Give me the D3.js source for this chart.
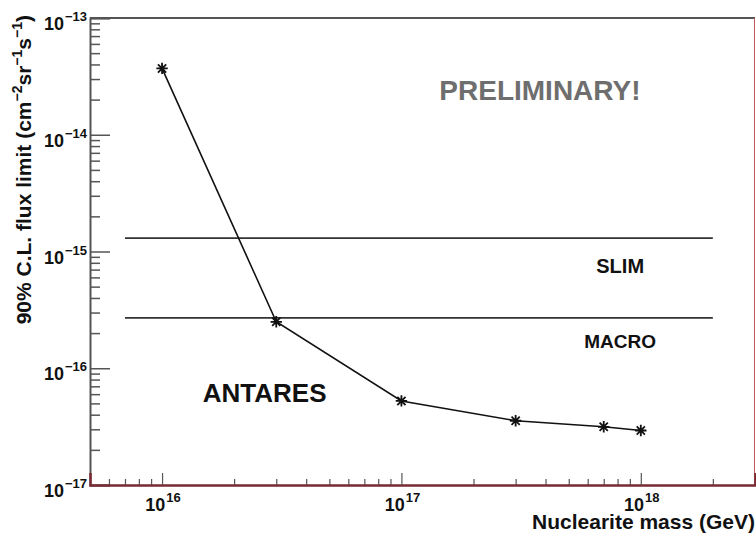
<!DOCTYPE html>
<html>
  <head>
    <meta charset="utf-8">
    <title>Nuclearite flux limit</title>
    <script src="https://d3js.org/d3.v7.min.js"></script>
    <style>
      body { margin: 0; background: #ffffff; }
      text { font-family: "Liberation Sans", Arial, Helvetica, sans-serif; font-weight: bold; }
    </style>
  </head>
  <body>
    <svg width="756" height="535"></svg>
    <script>
      // ANTARES points
      var masses = [1e16, 3e16, 1e17, 3e17, 7e17, 1e18];
      var fluxLimits = [3.7e-14, 2.5e-16, 5.25e-17, 3.55e-17, 3.15e-17, 2.93e-17];

      // other experiments (flat limits)
      var refNames = ["SLIM", "MACRO"];
      var refLimits = [1.3e-15, 2.7e-16];
      var refRange = [7e15, 2e18];

      var xMajor = [1e16, 1e17, 1e18];
      var xMajorExp = ["16", "17", "18"];
      var yMajor = [1e-13, 1e-14, 1e-15, 1e-16, 1e-17];
      var yMajorExp = ["\u221213", "\u221214", "\u221215", "\u221216", "\u221217"];

      var margin = { top: 18, right: 1, bottom: 50, left: 90 },
          width = 756 - margin.left - margin.right,
          height = 535 - margin.top - margin.bottom;

      var svg = d3.select("svg")
          .append("g")
          .attr("transform", "translate(" + margin.left + "," + margin.top + ")");

      var xScale = d3.scaleLog()
          .domain([5e15, 3e18])
          .range([0, width]);

      var yScale = d3.scaleLog()
          .domain([1e-17, 1e-13])
          .range([height, 0]);

      // minor tick values 2..9 per decade inside domain
      function minorTicks(scale) {
        var d = scale.domain(), lo = Math.min(d[0], d[1]), hi = Math.max(d[0], d[1]);
        var out = [];
        for (var e = Math.floor(Math.log10(lo)); e <= Math.ceil(Math.log10(hi)); e++) {
          for (var k = 2; k <= 9; k++) {
            var v = k * Math.pow(10, e);
            if (v > lo * 1.0001 && v < hi * 0.9999) out.push(v);
          }
        }
        return out;
      }

      // frame: top and right
      svg.append("line")
          .attr("x1", 0).attr("x2", width).attr("y1", 0).attr("y2", 0)
          .attr("stroke", "#555").attr("stroke-width", 2);
      svg.append("line")
          .attr("x1", width - 0.5).attr("x2", width - 0.5).attr("y1", 0).attr("y2", height)
          .attr("stroke", "#c05a5a").attr("stroke-width", 1);

      // y axis ticks (pointing inward)
      svg.append("g")
          .call(d3.axisLeft(yScale).tickValues(minorTicks(yScale)).tickSize(-10).tickFormat(""))
          .call(function(g) { g.select(".domain").remove(); })
          .selectAll("line").attr("stroke", "#555").attr("stroke-width", 1.5);
      svg.append("g")
          .call(d3.axisLeft(yScale).tickValues(yMajor).tickSize(-20).tickFormat(""))
          .call(function(g) { g.select(".domain").attr("stroke", "#555").attr("stroke-width", 2); })
          .selectAll("line").attr("stroke", "#555").attr("stroke-width", 1.5);

      // x axis ticks
      svg.append("g")
          .attr("transform", "translate(0," + height + ")")
          .call(d3.axisBottom(xScale).tickValues(minorTicks(xScale)).tickSize(-6).tickFormat(""))
          .call(function(g) { g.select(".domain").remove(); })
          .selectAll("line").attr("stroke", "#555").attr("stroke-width", 1.2);
      svg.append("g")
          .attr("transform", "translate(0," + height + ")")
          .call(d3.axisBottom(xScale).tickValues(xMajor).tickSize(-12).tickFormat(""))
          .call(function(g) { g.select(".domain").attr("stroke", "#7a2a35").attr("stroke-width", 2.5); })
          .selectAll("line").attr("stroke", "#555").attr("stroke-width", 1.2);

      // y tick labels
      var yLab = svg.selectAll(".ylab")
          .data(yMajor)
          .enter()
          .append("text")
          .attr("class", "ylab")
          .attr("x", -3)
          .attr("y", function(d) { return yScale(d) + 12; })
          .attr("text-anchor", "end")
          .attr("fill", "#111");
      yLab.append("tspan").style("font-size", "18px").text("10");
      yLab.append("tspan").style("font-size", "13px").attr("dy", -9).attr("dx", 1)
          .text(function(d, i) { return yMajorExp[i]; });

      // x tick labels
      var xLab = svg.selectAll(".xlab")
          .data(xMajor)
          .enter()
          .append("text")
          .attr("class", "xlab")
          .attr("x", function(d) { return xScale(d) + 1; })
          .attr("y", height + 26)
          .attr("text-anchor", "middle")
          .attr("fill", "#111");
      xLab.append("tspan").style("font-size", "18px").text("10");
      xLab.append("tspan").style("font-size", "13px").attr("dy", -9).attr("dx", 1)
          .text(function(d, i) { return xMajorExp[i]; });

      // axis titles
      svg.append("text")
          .attr("x", width)
          .attr("y", height + 44)
          .attr("text-anchor", "end")
          .attr("fill", "#111")
          .style("font-size", "21px")
          .text("Nuclearite mass (GeV)");

      var yTitle = svg.append("text")
          .attr("transform", "translate(" + (31 - margin.left) + "," + (-3) + ") rotate(-90)")
          .attr("text-anchor", "end")
          .attr("fill", "#111")
          .style("font-size", "21px");
      yTitle.append("tspan").text("90% C.L. flux limit (cm");
      yTitle.append("tspan").style("font-size", "14px").attr("dy", -9).text("\u22122");
      yTitle.append("tspan").attr("dy", 9).text("sr");
      yTitle.append("tspan").style("font-size", "14px").attr("dy", -9).text("\u22121");
      yTitle.append("tspan").attr("dy", 9).text("s");
      yTitle.append("tspan").style("font-size", "14px").attr("dy", -9).text("\u22121");
      yTitle.append("tspan").attr("dy", 9).text(")");

      // reference limits
      svg.selectAll(".ref")
          .data(refLimits)
          .enter()
          .append("line")
          .attr("class", "ref")
          .attr("x1", xScale(refRange[0]))
          .attr("x2", xScale(refRange[1]))
          .attr("y1", function(d) { return yScale(d); })
          .attr("y2", function(d) { return yScale(d); })
          .attr("stroke", "#333")
          .attr("stroke-width", 1.8);

      // ANTARES curve
      var pts = masses.map(function(m, i) { return [m, fluxLimits[i]]; });
      var line = d3.line()
          .x(function(d) { return xScale(d[0]); })
          .y(function(d) { return yScale(d[1]); });
      svg.append("path")
          .datum(pts)
          .attr("d", line)
          .attr("fill", "none")
          .attr("stroke", "#111")
          .attr("stroke-width", 1.6);

      // ROOT-style star marker (+ and x)
      var starMarker = {
        draw: function(ctx, size) {
          var r = Math.sqrt(size) / 2, s = r * 0.72;
          ctx.moveTo(-r, 0); ctx.lineTo(r, 0);
          ctx.moveTo(0, -r); ctx.lineTo(0, r);
          ctx.moveTo(-s, -s); ctx.lineTo(s, s);
          ctx.moveTo(-s, s); ctx.lineTo(s, -s);
        }
      };
      svg.selectAll(".pt")
          .data(pts)
          .enter()
          .append("path")
          .attr("class", "pt")
          .attr("transform", function(d) { return "translate(" + xScale(d[0]) + "," + yScale(d[1]) + ")"; })
          .attr("d", d3.symbol().type(starMarker).size(130))
          .attr("fill", "none")
          .attr("stroke", "#111")
          .attr("stroke-width", 1.8);

      // annotations
      svg.append("text")
          .attr("x", xScale(1.44e17))
          .attr("y", yScale(2e-14))
          .attr("fill", "#6e6e6e")
          .style("font-size", "28px")
          .text("PRELIMINARY!");

      svg.append("text")
          .attr("x", xScale(1.48e16))
          .attr("y", yScale(5.1e-17))
          .attr("fill", "#111")
          .style("font-size", "26px")
          .text("ANTARES");

      var refLabelY = [6.5e-16, 1.49e-16];
      svg.selectAll(".reflab")
          .data(refNames)
          .enter()
          .append("text")
          .attr("class", "reflab")
          .attr("x", xScale(8.2e17))
          .attr("y", function(d, i) { return yScale(refLabelY[i]); })
          .attr("text-anchor", "middle")
          .attr("fill", "#111")
          .style("font-size", function(d, i) { return i === 0 ? "20px" : "19px"; })
          .text(function(d) { return d; });
    </script>
  </body>
</html>
